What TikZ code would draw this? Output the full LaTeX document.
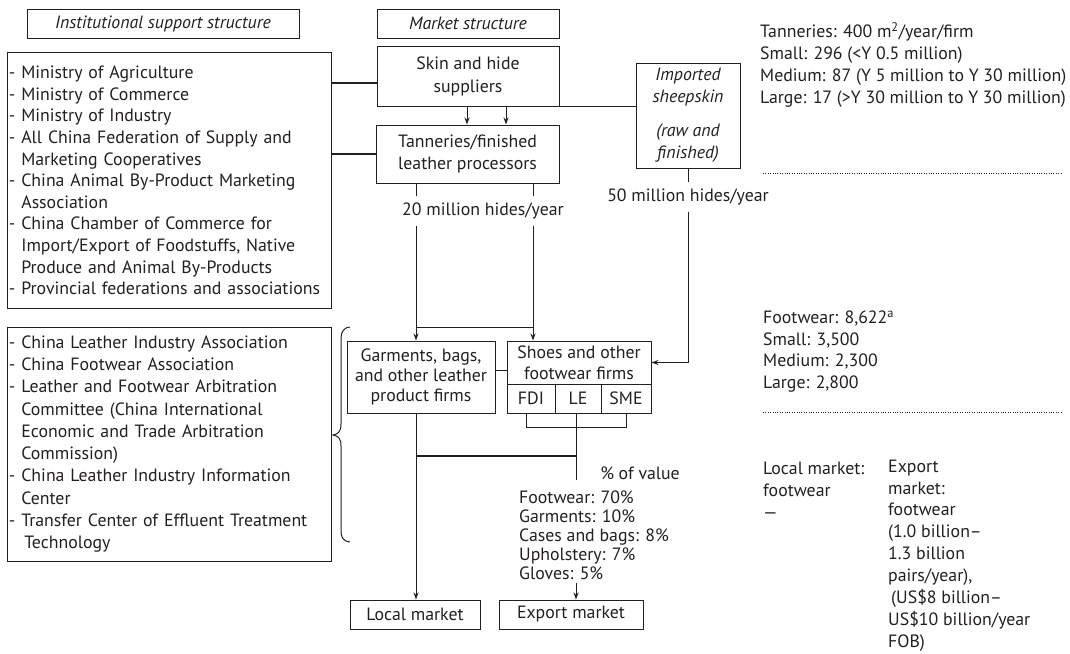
\documentclass[tikz,border=0pt]{standalone}
\usepackage{fontspec}
\setmainfont{PT Sans}
\usetikzlibrary{arrows.meta}
\definecolor{ink}{RGB}{35,31,32}
\newcommand\fz[1]{\fontsize{17.8}{#1}\selectfont}
\begin{document}
\begin{tikzpicture}[x=1pt,y=-1pt,
  every node/.style={text=ink, font=\fz{22}},
  box/.style={draw=ink, line width=1pt, inner sep=0pt, align=center},
  lbl/.style={inner sep=0pt, align=left},
  ln/.style={draw=ink, line width=1pt},
  heavy/.style={draw=ink, line width=1.8pt},
  arr/.style={draw=ink, line width=1pt, -{Stealth[length=7pt,width=5pt]}},
  dotsep/.style={draw=ink, line width=0.9pt, dash pattern=on 0.9pt off 1.5pt}]
\useasboundingbox (0,0) rectangle (1070,653);
% headers
\node[box, minimum width=272, minimum height=29, font=\fz{22}\itshape] (inst) at (163,23.5) {Institutional support structure};
\node[box, minimum width=182, minimum height=29, font=\fz{22}\itshape] (mkt) at (468,23.5) {Market structure};
% institutional boxes
\node[box, minimum width=324, minimum height=256, text width=320, align=left, font=\fz{21.6}] (b1) at (169,180.5) {%
- Ministry of Agriculture\\
- Ministry of Commerce\\
- Ministry of Industry\\
- All China Federation of Supply and\\
\hphantom{- }Marketing Cooperatives\\
- China Animal By-Product Marketing\\
\hphantom{- }Association\\
- China Chamber of Commerce for\\
\hphantom{- }Import/Export of Foodstuffs, Native\\
\hphantom{- }Produce and Animal By-Products\\
- Provincial federations and associations};
\node[box, minimum width=324, minimum height=234, text width=320, align=left, font=\fz{22.3}] (b2) at (169,444) {%
- China Leather Industry Association\\
- China Footwear Association\\
- Leather and Footwear Arbitration\\
\hphantom{- }Committee (China International\\
\hphantom{- }Economic and Trade Arbitration\\
\hphantom{- }Commission)\\
- China Leather Industry Information\\
\hphantom{- }Center\\
- Transfer Center of Effluent Treatment\\
\hphantom{- }\hspace{3pt}Technology};
% market boxes
\node[box, minimum width=182, minimum height=60, font=\fz{23}] (skin) at (468,76) {Skin and hide\\suppliers};
\node[box, minimum width=183, minimum height=58] (tan) at (467.5,154) {Tanneries/finished\\leather processors};
\node[box, minimum width=104, minimum height=105, font=\fz{22}\itshape] (imp) at (688,115.5) {Imported\\sheepskin\\[12pt](raw and\\finished)};
\node[box, minimum width=148, minimum height=72, font=\fz{20}] (gar) at (421,377) {Garments, bags,\\and other leather\\product firms};
\node[box, minimum width=144, minimum height=43, font=\fz{21}] (shoes) at (579,362.5) {Shoes and other\\footwear firms};
\node[box, minimum width=48, minimum height=29] (fdi) at (531,398.5) {FDI};
\node[box, minimum width=46, minimum height=29] (le) at (578,398.5) {LE};
\node[box, minimum width=50, minimum height=29] (sme) at (626,398.5) {SME};
\node[box, minimum width=130, minimum height=29] (local) at (415,614.5) {Local market};
\node[box, minimum width=144, minimum height=29] (export) at (571,614.5) {Export market};
% flow labels
\node[lbl, minimum height=29] (l20) at (483,211) {20 million hides/year};
\node[lbl, minimum height=30] (l50) at (688,197) {50 million hides/year};
\node[lbl] (pct) at (640,473) {\% of value};
\node[lbl, anchor=west, font=\fz{19}] (shares) at (519,535) {Footwear: 70\%\\Garments: 10\%\\Cases and bags: 8\%\\Upholstery: 7\%\\Gloves: 5\%};
% right-hand notes
\node[lbl, anchor=west, font=\fz{22}] (tinfo) at (760,65) {Tanneries: 400 m\textsuperscript{2}/year/firm\\Small: 296 (<Y 0.5 million)\\Medium: 87 (Y 5 million to Y 30 million)\\Large: 17 (>Y 30 million to Y 30 million)};
\node[lbl, anchor=west, font=\fz{21.7}] (finfo) at (763,351.5) {Footwear: 8,622\textsuperscript{a}\\Small: 3,500\\Medium: 2,300\\Large: 2,800};
\node[lbl, anchor=west, font=\fz{22}] (linfo) at (763,490) {Local market:\\footwear\\—};
\node[lbl, anchor=west, font=\fz{21.9}] (einfo) at (888,555.5) {Export\\market:\\footwear\\(1.0 billion–\\1.3 billion\\pairs/year),\\\hspace{3pt}(US\$8 billion–\\US\$10 billion/year\\FOB)};
% coordinates
\coordinate (xa) at (467,0);
\coordinate (xb) at (506,0);
\coordinate (xg) at (416,0);
\coordinate (xs) at (533,0);
\coordinate (xl) at (576,0);
\coordinate (xbl) at (526,0);
\coordinate (xbr) at (626,0);
\coordinate (yskin) at (0,83);
\coordinate (yjoin) at (0,327);
\coordinate (ygs) at (0,370);
\coordinate (ybr) at (0,427);
\coordinate (ymid) at (0,456);
\coordinate (lend) at (576,480);
\coordinate (estart) at (576,583);
\coordinate (d1a) at (763,173);
\coordinate (d1b) at (1062,173);
\coordinate (d2a) at (763,412);
\coordinate (d2b) at (1062,412);
% institutional connectors
\draw[heavy] (b1.east |- yskin) -- (skin.west |- yskin);
\draw[heavy] (b1.east |- tan.west) -- (tan.west);
% brace
\draw[ln] (350,327) .. controls (342,328) and (341,333) .. (341,342) -- (341,424)
  .. controls (341,432) and (338,434) .. (333,435)
  .. controls (338,436) and (341,438) .. (341,446) -- (341,530)
  .. controls (341,538) and (343,541) .. (350,542);
% market connectors
\draw[arr] (skin.south -| xa) -- (tan.north -| xa);
\draw[arr] (skin.south -| xb) -- (tan.north -| xb);
\draw[ln] (skin.south east) -- (imp.west |- skin.south east);
\draw[ln] (tan.south -| xg) -- (l20.north -| xg);
\draw[ln] (tan.south -| xs) -- (l20.north -| xs);
\draw[arr] (l20.south -| xg) -- (gar.north -| xg);
\draw[arr] (l20.south -| xs) -- (shoes.north -| xs);
\draw[ln] (xg |- yjoin) -- (xs |- yjoin);
\draw[ln] (imp.south) -- (l50.north);
\draw[arr] (l50.south) |- (shoes.east);
\draw[ln] (gar.east |- ygs) -- (shoes.west |- ygs);
\draw[ln] (fdi.south -| xbl) -- (xbl |- ybr) -- (xbr |- ybr) -- (sme.south -| xbr);
\draw[ln] (le.south -| xl) -- (lend);
\draw[heavy] (xg |- ymid) -- (xl |- ymid);
\draw[arr] (gar.south -| xg) -- (local.north -| xg);
\draw[arr] (estart) -- (export.north -| estart);
% dotted separators
\draw[dotsep] (d1a) -- (d1b);
\draw[dotsep] (d2a) -- (d2b);
\end{tikzpicture}
\end{document}
